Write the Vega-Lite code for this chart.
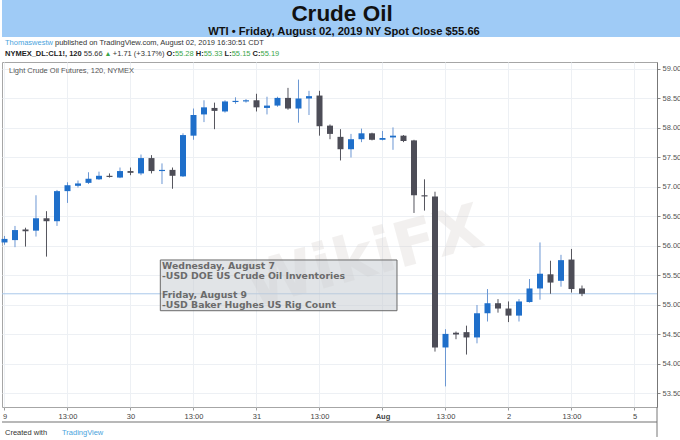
{
  "$schema": "https://vega.github.io/schema/vega-lite/v6.json",
  "padding": 0,
  "background": "white",
  "spacing": 0,
  "bounds": "flush",
  "config": {"view": {"stroke": null}, "font": "Liberation Sans", "concat": {"spacing": 0}, "scale": {"continuousPadding": 0}},
  "datasets": {
    "candles": [
      {"k": 0, "open": 56.06, "high": 56.17, "low": 56.02, "close": 56.12},
      {"k": 1, "open": 56.10, "high": 56.34, "low": 55.98, "close": 56.27},
      {"k": 2, "open": 56.28, "high": 56.31, "low": 55.99, "close": 56.25},
      {"k": 3, "open": 56.26, "high": 56.86, "low": 56.16, "close": 56.47},
      {"k": 4, "open": 56.47, "high": 56.59, "low": 55.82, "close": 56.42},
      {"k": 5, "open": 56.42, "high": 56.95, "low": 56.34, "close": 56.93},
      {"k": 6, "open": 56.93, "high": 57.08, "low": 56.73, "close": 57.03},
      {"k": 7, "open": 57.02, "high": 57.11, "low": 56.99, "close": 57.06},
      {"k": 8, "open": 57.07, "high": 57.25, "low": 57.05, "close": 57.14},
      {"k": 9, "open": 57.13, "high": 57.26, "low": 57.12, "close": 57.19},
      {"k": 10, "open": 57.19, "high": 57.23, "low": 57.16, "close": 57.17},
      {"k": 11, "open": 57.16, "high": 57.33, "low": 57.15, "close": 57.27},
      {"k": 12, "open": 57.27, "high": 57.33, "low": 57.20, "close": 57.24},
      {"k": 13, "open": 57.23, "high": 57.55, "low": 57.20, "close": 57.49},
      {"k": 14, "open": 57.49, "high": 57.54, "low": 57.23, "close": 57.27},
      {"k": 15, "open": 57.27, "high": 57.40, "low": 57.05, "close": 57.29},
      {"k": 16, "open": 57.29, "high": 57.33, "low": 56.97, "close": 57.19},
      {"k": 17, "open": 57.18, "high": 57.91, "low": 57.17, "close": 57.88},
      {"k": 18, "open": 57.87, "high": 58.33, "low": 57.80, "close": 58.22},
      {"k": 19, "open": 58.23, "high": 58.47, "low": 58.10, "close": 58.35},
      {"k": 20, "open": 58.34, "high": 58.43, "low": 57.98, "close": 58.29},
      {"k": 21, "open": 58.28, "high": 58.47, "low": 58.26, "close": 58.45},
      {"k": 22, "open": 58.44, "high": 58.52, "low": 58.41, "close": 58.46},
      {"k": 23, "open": 58.45, "high": 58.49, "low": 58.43, "close": 58.47},
      {"k": 24, "open": 58.47, "high": 58.58, "low": 58.28, "close": 58.35},
      {"k": 25, "open": 58.34, "high": 58.53, "low": 58.23, "close": 58.38},
      {"k": 26, "open": 58.38, "high": 58.53, "low": 58.36, "close": 58.51},
      {"k": 27, "open": 58.51, "high": 58.68, "low": 58.31, "close": 58.33},
      {"k": 28, "open": 58.33, "high": 58.82, "low": 58.09, "close": 58.50},
      {"k": 29, "open": 58.50, "high": 58.63, "low": 58.22, "close": 58.54},
      {"k": 30, "open": 58.55, "high": 58.63, "low": 57.87, "close": 58.03},
      {"k": 31, "open": 58.04, "high": 58.06, "low": 57.81, "close": 57.90},
      {"k": 32, "open": 57.85, "high": 57.98, "low": 57.45, "close": 57.64},
      {"k": 33, "open": 57.64, "high": 57.90, "low": 57.50, "close": 57.81},
      {"k": 34, "open": 57.81, "high": 57.99, "low": 57.76, "close": 57.91},
      {"k": 35, "open": 57.91, "high": 57.92, "low": 57.79, "close": 57.80},
      {"k": 36, "open": 57.80, "high": 57.95, "low": 57.79, "close": 57.83},
      {"k": 37, "open": 57.84, "high": 58.01, "low": 57.63, "close": 57.87},
      {"k": 38, "open": 57.87, "high": 57.88, "low": 57.76, "close": 57.78},
      {"k": 39, "open": 57.79, "high": 57.80, "low": 56.56, "close": 56.86},
      {"k": 40, "open": 56.86, "high": 57.13, "low": 56.60, "close": 56.84},
      {"k": 41, "open": 56.84, "high": 56.92, "low": 54.21, "close": 54.28},
      {"k": 42, "open": 54.28, "high": 54.59, "low": 53.62, "close": 54.51},
      {"k": 43, "open": 54.53, "high": 54.55, "low": 54.42, "close": 54.50},
      {"k": 44, "open": 54.54, "high": 54.65, "low": 54.16, "close": 54.45},
      {"k": 45, "open": 54.45, "high": 55.00, "low": 54.35, "close": 54.86},
      {"k": 46, "open": 54.86, "high": 55.27, "low": 54.72, "close": 55.03},
      {"k": 47, "open": 55.03, "high": 55.10, "low": 54.87, "close": 54.94},
      {"k": 48, "open": 54.94, "high": 55.06, "low": 54.71, "close": 54.82},
      {"k": 49, "open": 54.82, "high": 55.10, "low": 54.72, "close": 55.06},
      {"k": 50, "open": 55.05, "high": 55.44, "low": 55.04, "close": 55.28},
      {"k": 51, "open": 55.28, "high": 56.06, "low": 55.09, "close": 55.53},
      {"k": 52, "open": 55.52, "high": 55.75, "low": 55.19, "close": 55.38},
      {"k": 53, "open": 55.41, "high": 55.85, "low": 55.31, "close": 55.76},
      {"k": 54, "open": 55.77, "high": 55.95, "low": 55.21, "close": 55.27},
      {"k": 55, "open": 55.28, "high": 55.33, "low": 55.15, "close": 55.19}
    ]
  },
  "vconcat": [
    {
      "width": 680,
      "height": 37,
      "view": {"fill": "#9fcbf6", "stroke": null},
      "data": {"values": [{}]},
      "layer": [
        {
          "mark": {"type": "text", "text": "Crude Oil", "font": "Liberation Sans", "fontSize": 22.5, "fontWeight": "bold", "color": "#111111", "align": "center", "baseline": "alphabetic"},
          "encoding": {
            "x": {"datum": 340, "type": "quantitative", "scale": {"domain": [0, 680]}, "axis": null},
            "y": {"datum": 20.8, "type": "quantitative", "scale": {"domain": [37, 0]}, "axis": null}
          }
        },
        {
          "mark": {"type": "text", "text": "WTI • Friday, August 02, 2019 NY Spot Close $55.66", "font": "Liberation Sans", "fontSize": 11.2, "fontWeight": "bold", "color": "#111111", "align": "center", "baseline": "alphabetic"},
          "encoding": {
            "x": {"datum": 342, "type": "quantitative", "scale": {"domain": [0, 680]}, "axis": null},
            "y": {"datum": 35.3, "type": "quantitative", "scale": {"domain": [37, 0]}, "axis": null}
          }
        }
      ]
    },
    {
      "width": 680,
      "height": 25,
      "view": {"fill": "white", "stroke": null},
      "data": {"values": [{}]},
      "encoding": {
        "y": {"datum": 6, "type": "quantitative", "scale": {"domain": [25, 0]}, "axis": null}
      },
      "layer": [
        {
          "mark": {"type": "text", "text": "Thomaswestw", "fontSize": 7.5, "color": "#4aa3dc", "align": "left", "baseline": "middle"},
          "encoding": {"x": {"datum": 3, "type": "quantitative", "scale": {"domain": [0, 680]}, "axis": null}}
        },
        {
          "mark": {"type": "text", "text": "published on TradingView.com, August 02, 2019 16:30:51 CDT", "fontSize": 7.5, "color": "#333333", "align": "left", "baseline": "middle"},
          "encoding": {"x": {"datum": 53, "type": "quantitative", "scale": {"domain": [0, 680]}, "axis": null}}
        },
        {
          "mark": {"type": "text", "text": "NYMEX_DL:CL1!, 120", "fontSize": 7.5, "fontWeight": "bold", "color": "#222222", "align": "left", "baseline": "middle"},
          "encoding": {"x": {"datum": 3, "type": "quantitative", "scale": {"domain": [0, 680]}, "axis": null}, "y": {"datum": 17, "type": "quantitative", "scale": {"domain": [25, 0]}, "axis": null}}
        },
        {
          "mark": {"type": "text", "text": "55.66", "fontSize": 7.5, "color": "#333333", "align": "left", "baseline": "middle"},
          "encoding": {"x": {"datum": 81.8, "type": "quantitative", "scale": {"domain": [0, 680]}, "axis": null}, "y": {"datum": 17, "type": "quantitative", "scale": {"domain": [25, 0]}, "axis": null}}
        },
        {
          "mark": {"type": "text", "text": "▲", "fontSize": 7, "color": "#3aa64a", "align": "left", "baseline": "middle"},
          "encoding": {"x": {"datum": 102.5, "type": "quantitative", "scale": {"domain": [0, 680]}, "axis": null}, "y": {"datum": 16.5, "type": "quantitative", "scale": {"domain": [25, 0]}, "axis": null}}
        },
        {
          "mark": {"type": "text", "text": "+1.71 (+3.17%)", "fontSize": 7.5, "color": "#333333", "align": "left", "baseline": "middle"},
          "encoding": {"x": {"datum": 110.8, "type": "quantitative", "scale": {"domain": [0, 680]}, "axis": null}, "y": {"datum": 17, "type": "quantitative", "scale": {"domain": [25, 0]}, "axis": null}}
        },
        {
          "mark": {"type": "text", "text": "O:", "fontSize": 7.5, "fontWeight": "bold", "color": "#222222", "align": "left", "baseline": "middle"},
          "encoding": {"x": {"datum": 164.6, "type": "quantitative", "scale": {"domain": [0, 680]}, "axis": null}, "y": {"datum": 17, "type": "quantitative", "scale": {"domain": [25, 0]}, "axis": null}}
        },
        {
          "mark": {"type": "text", "text": "55.28", "fontSize": 7.5, "color": "#3aa64a", "align": "left", "baseline": "middle"},
          "encoding": {"x": {"datum": 172.9, "type": "quantitative", "scale": {"domain": [0, 680]}, "axis": null}, "y": {"datum": 17, "type": "quantitative", "scale": {"domain": [25, 0]}, "axis": null}}
        },
        {
          "mark": {"type": "text", "text": "H:", "fontSize": 7.5, "fontWeight": "bold", "color": "#222222", "align": "left", "baseline": "middle"},
          "encoding": {"x": {"datum": 193.8, "type": "quantitative", "scale": {"domain": [0, 680]}, "axis": null}, "y": {"datum": 17, "type": "quantitative", "scale": {"domain": [25, 0]}, "axis": null}}
        },
        {
          "mark": {"type": "text", "text": "55.33", "fontSize": 7.5, "color": "#3aa64a", "align": "left", "baseline": "middle"},
          "encoding": {"x": {"datum": 201.7, "type": "quantitative", "scale": {"domain": [0, 680]}, "axis": null}, "y": {"datum": 17, "type": "quantitative", "scale": {"domain": [25, 0]}, "axis": null}}
        },
        {
          "mark": {"type": "text", "text": "L:", "fontSize": 7.5, "fontWeight": "bold", "color": "#222222", "align": "left", "baseline": "middle"},
          "encoding": {"x": {"datum": 222.6, "type": "quantitative", "scale": {"domain": [0, 680]}, "axis": null}, "y": {"datum": 17, "type": "quantitative", "scale": {"domain": [25, 0]}, "axis": null}}
        },
        {
          "mark": {"type": "text", "text": "55.15", "fontSize": 7.5, "color": "#3aa64a", "align": "left", "baseline": "middle"},
          "encoding": {"x": {"datum": 229.7, "type": "quantitative", "scale": {"domain": [0, 680]}, "axis": null}, "y": {"datum": 17, "type": "quantitative", "scale": {"domain": [25, 0]}, "axis": null}}
        },
        {
          "mark": {"type": "text", "text": "C:", "fontSize": 7.5, "fontWeight": "bold", "color": "#222222", "align": "left", "baseline": "middle"},
          "encoding": {"x": {"datum": 250.6, "type": "quantitative", "scale": {"domain": [0, 680]}, "axis": null}, "y": {"datum": 17, "type": "quantitative", "scale": {"domain": [25, 0]}, "axis": null}}
        },
        {
          "mark": {"type": "text", "text": "55.19", "fontSize": 7.5, "color": "#3aa64a", "align": "left", "baseline": "middle"},
          "encoding": {"x": {"datum": 258.5, "type": "quantitative", "scale": {"domain": [0, 680]}, "axis": null}, "y": {"datum": 17, "type": "quantitative", "scale": {"domain": [25, 0]}, "axis": null}}
        }
      ]
    },
    {
      "width": 655,
      "height": 345,
      "view": {"stroke": "#a6a6a6"},
      "resolve": {"axis": {"x": "independent", "y": "independent"}},
      "layer": [
        {
          "data": {"values": [{}]},
          "mark": {"type": "text", "text": "WikiFX", "font": "DejaVu Sans", "fontSize": 62, "fontWeight": "bold", "angle": -15, "color": "#d2ccc8", "opacity": 0.28, "align": "center", "baseline": "middle"},
          "encoding": {
            "x": {"datum": 34.3, "type": "quantitative", "scale": {"domain": [-0.238, 62.143], "nice": false, "zero": false, "padding": 0}, "axis": null},
            "y": {"datum": 55.8, "type": "quantitative", "scale": {"domain": [53.271, 59.1186], "nice": false, "zero": false}, "axis": null}
          }
        },
        {
          "data": {"values": [{}]},
          "mark": {"type": "rule", "color": "#a9c8ea", "strokeWidth": 1},
          "encoding": {
            "y": {"datum": 55.19, "type": "quantitative", "scale": {"domain": [53.271, 59.1186], "nice": false, "zero": false}, "axis": null}
          }
        },
        {
          "data": {"name": "candles"},
          "mark": {"type": "rule", "strokeWidth": 1},
          "encoding": {
            "x": {"field": "k", "type": "quantitative", "scale": {"domain": [-0.238, 62.143], "nice": false, "zero": false, "padding": 0}, "axis": null},
            "y": {"field": "low", "type": "quantitative", "scale": {"domain": [53.271, 59.1186], "nice": false, "zero": false}, "axis": null},
            "y2": {"field": "high"},
            "color": {"condition": {"test": "datum.close >= datum.open", "value": "#6b97d3"}, "value": "#55555e"}
          }
        },
        {
          "data": {"name": "candles"},
          "mark": {"type": "bar", "size": 6},
          "encoding": {
            "x": {
              "field": "k", "type": "quantitative",
              "scale": {"domain": [-0.238, 62.143], "nice": false, "zero": false, "padding": 0},
              "axis": {
                "title": null, "values": [0, 6, 12, 18, 24, 30, 36, 42, 48, 54, 60],
                "labelExpr": "['9','13:00','30','13:00','31','13:00','Aug','13:00','2','13:00','5'][round(datum.value/6)]",
                "grid": true, "gridColor": "#edf0f4", "domain": false,
                "tickSize": 3, "tickColor": "#9a9a9a",
                "labelFontSize": 7.5, "labelColor": "#444444", "labelPadding": 2,
                "labelOverlap": false, "labelBound": false, "labelFlush": false,
                "labelFontWeight": {"condition": {"test": "datum.value == 36", "value": "bold"}, "value": "normal"}
              }
            },
            "y": {
              "field": "open", "type": "quantitative",
              "scale": {"domain": [53.271, 59.1186], "nice": false, "zero": false},
              "axis": {
                "orient": "right", "title": null,
                "values": [53.5, 54, 54.5, 55, 55.5, 56, 56.5, 57, 57.5, 58, 58.5, 59],
                "format": ".2f", "grid": true, "gridColor": "#edf0f4",
                "domainColor": "#777777", "tickSize": 3, "tickColor": "#888888",
                "labelFontSize": 7.5, "labelColor": "#555555", "labelPadding": 2,
                "labelOverlap": false, "labelBound": false, "labelFlush": false
              }
            },
            "y2": {"field": "close"},
            "color": {"condition": {"test": "datum.close >= datum.open", "value": "#1f6fca"}, "value": "#4d4d57"}
          }
        },
        {
          "data": {"values": [{}]},
          "mark": {"type": "rect", "fill": "#c9cdd3", "fillOpacity": 0.55, "stroke": "#6a6a6a", "strokeWidth": 1},
          "encoding": {
            "x": {"datum": 14.84, "type": "quantitative", "scale": {"domain": [-0.238, 62.143], "nice": false, "zero": false, "padding": 0}, "axis": null},
            "x2": {"datum": 37.38},
            "y": {"datum": 55.763, "type": "quantitative", "scale": {"domain": [53.271, 59.1186], "nice": false, "zero": false}, "axis": null},
            "y2": {"datum": 54.903}
          }
        },
        {
          "data": {"values": [{}]},
          "mark": {"type": "text", "text": ["Wednesday, August 7", "-USD DOE US Crude Oil Inventories"], "lineHeight": 9.8, "font": "DejaVu Sans", "fontSize": 9.3, "fontWeight": "bold", "color": "#6b6b6b", "align": "left", "baseline": "alphabetic"},
          "encoding": {
            "x": {"datum": 15.0, "type": "quantitative", "scale": {"domain": [-0.238, 62.143], "nice": false, "zero": false, "padding": 0}, "axis": null},
            "y": {"datum": 55.605, "type": "quantitative", "scale": {"domain": [53.271, 59.1186], "nice": false, "zero": false}, "axis": null}
          }
        },
        {
          "data": {"values": [{}]},
          "mark": {"type": "text", "text": ["Friday, August 9", "-USD Baker Hughes US Rig Count"], "lineHeight": 9.6, "font": "DejaVu Sans", "fontSize": 9.3, "fontWeight": "bold", "color": "#6b6b6b", "align": "left", "baseline": "alphabetic"},
          "encoding": {
            "x": {"datum": 15.0, "type": "quantitative", "scale": {"domain": [-0.238, 62.143], "nice": false, "zero": false, "padding": 0}, "axis": null},
            "y": {"datum": 55.114, "type": "quantitative", "scale": {"domain": [53.271, 59.1186], "nice": false, "zero": false}, "axis": null}
          }
        },
        {
          "data": {"values": [{}]},
          "mark": {"type": "text", "text": "Light Crude Oil Futures, 120, NYMEX", "fontSize": 7.5, "color": "#555555", "align": "left", "baseline": "middle"},
          "encoding": {
            "x": {"datum": 0.43, "type": "quantitative", "scale": {"domain": [-0.238, 62.143], "nice": false, "zero": false, "padding": 0}, "axis": null},
            "y": {"datum": 58.966, "type": "quantitative", "scale": {"domain": [53.271, 59.1186], "nice": false, "zero": false}, "axis": null}
          }
        },
        {
          "data": {"values": [{}]},
          "mark": {"type": "rule", "color": "#a0a0a0", "strokeWidth": 1.5},
          "encoding": {
            "x": {"datum": -0.238, "type": "quantitative", "scale": {"domain": [-0.238, 62.143], "nice": false, "zero": false, "padding": 0}, "axis": null},
            "x2": {"datum": 62.143},
            "y": {"datum": 53.017, "type": "quantitative", "scale": {"domain": [53.271, 59.1186], "nice": false, "zero": false}, "axis": null}
          }
        },
        {
          "data": {"values": [{}]},
          "mark": {"type": "rule", "color": "#777777", "strokeWidth": 1},
          "encoding": {
            "x": {"datum": 62.143, "type": "quantitative", "scale": {"domain": [-0.238, 62.143], "nice": false, "zero": false, "padding": 0}, "axis": null},
            "y": {"datum": 53.271, "type": "quantitative", "scale": {"domain": [53.271, 59.1186], "nice": false, "zero": false}, "axis": null},
            "y2": {"datum": 52.763}
          }
        },
        {
          "data": {"values": [{}]},
          "mark": {"type": "text", "text": "Created with", "fontSize": 7.5, "color": "#333333", "align": "left", "baseline": "middle"},
          "encoding": {
            "x": {"datum": 0.048, "type": "quantitative", "scale": {"domain": [-0.238, 62.143], "nice": false, "zero": false, "padding": 0}, "axis": null},
            "y": {"datum": 52.831, "type": "quantitative", "scale": {"domain": [53.271, 59.1186], "nice": false, "zero": false}, "axis": null}
          }
        },
        {
          "data": {"values": [{}]},
          "mark": {"type": "text", "text": "TradingView", "fontSize": 7.5, "color": "#4aa3dc", "align": "left", "baseline": "middle"},
          "encoding": {
            "x": {"datum": 5.476, "type": "quantitative", "scale": {"domain": [-0.238, 62.143], "nice": false, "zero": false, "padding": 0}, "axis": null},
            "y": {"datum": 52.831, "type": "quantitative", "scale": {"domain": [53.271, 59.1186], "nice": false, "zero": false}, "axis": null}
          }
        }
      ]
    }
  ]
}
